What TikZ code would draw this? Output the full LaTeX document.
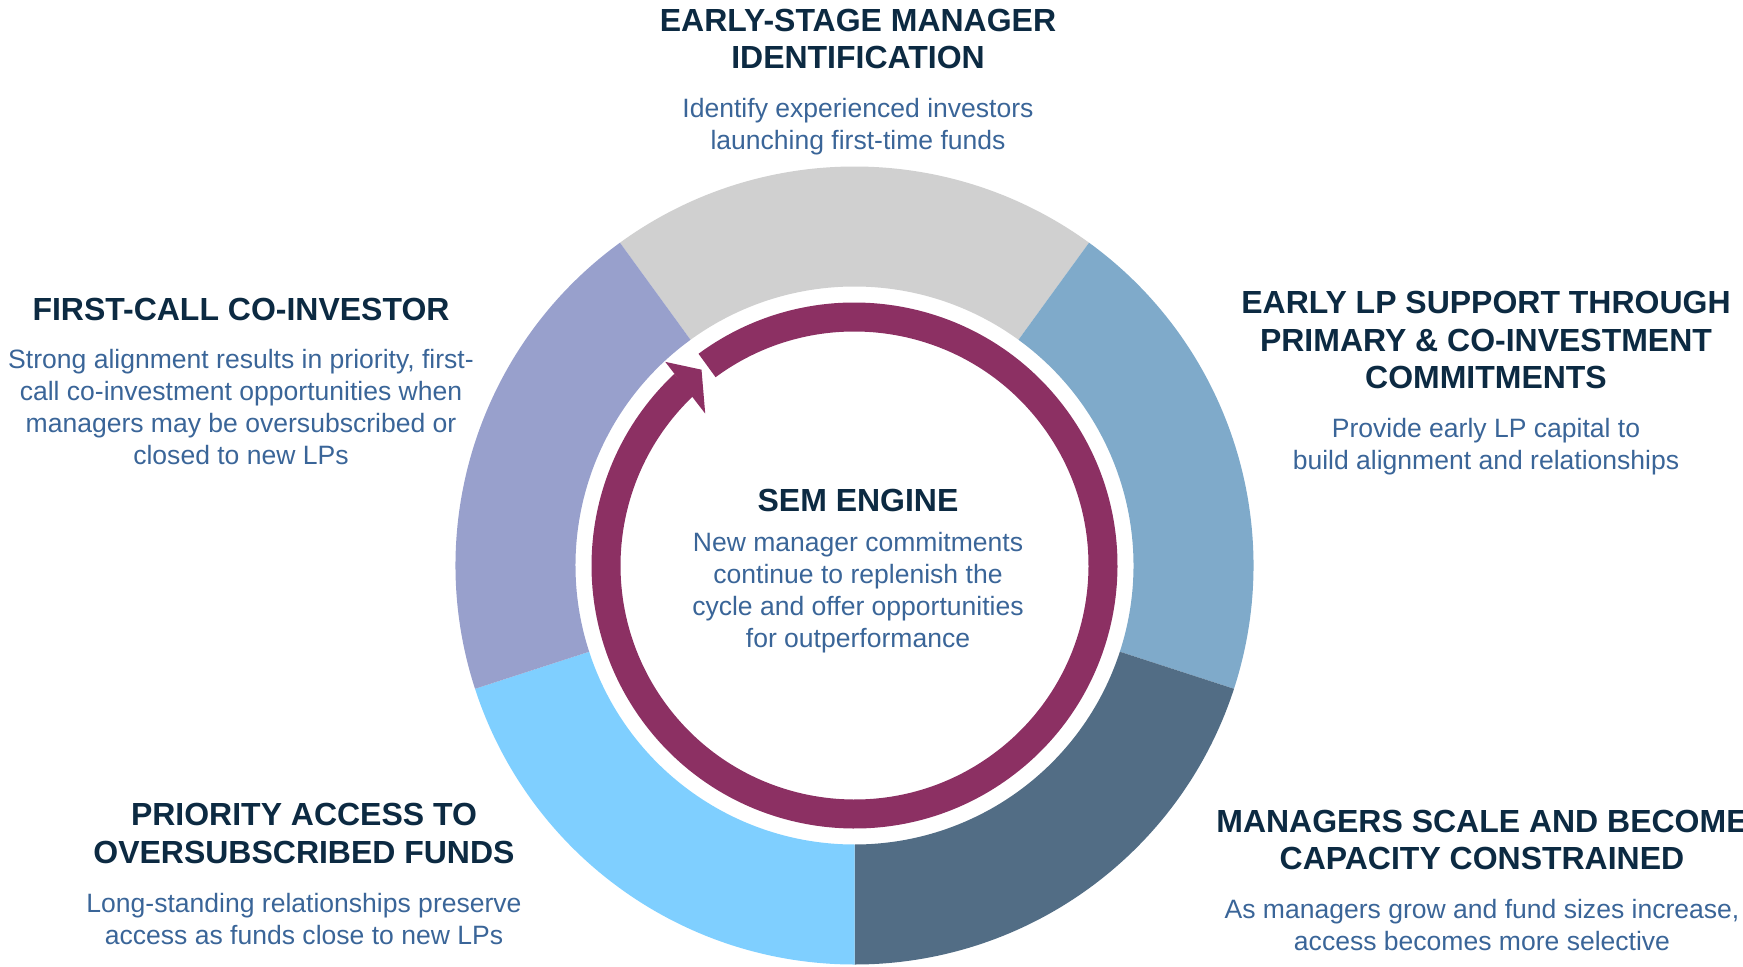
\documentclass[tikz,border=0pt]{standalone}
\usepackage{fontspec}
\setmainfont{Liberation Sans}
\usetikzlibrary{positioning}

\definecolor{navy}{RGB}{12,42,66}
\definecolor{copyblue}{RGB}{58,101,152}
\definecolor{wedgegray}{RGB}{208,208,208}
\definecolor{wedgesteel}{RGB}{127,170,202}
\definecolor{wedgeslate}{RGB}{82,109,133}
\definecolor{wedgesky}{RGB}{127,207,255}
\definecolor{wedgelilac}{RGB}{152,160,204}
\definecolor{engine}{RGB}{140,48,99}

\tikzset{
  heading/.style={font=\fontsize{9.1}{10.75}\selectfont\bfseries, text=navy,
    align=center, inner sep=0pt},
  blurb/.style={font=\fontsize{7.55}{9.1}\selectfont, text=copyblue,
    align=center, inner sep=0pt},
}

\begin{document}
\begin{tikzpicture}
\useasboundingbox (0,0) rectangle (17.43,9.66);

% ring of five stages, centred on the engine
\begin{scope}[shift={(8.545,4.005)}]
\fill[wedgegray]  (54:2.79) arc[start angle=54, end angle=126, radius=2.79]
  -- (126:3.99) arc[start angle=126, end angle=54, radius=3.99] -- cycle;
\fill[wedgesteel] (-18:2.79) arc[start angle=-18, end angle=54, radius=2.79]
  -- (54:3.99) arc[start angle=54, end angle=-18, radius=3.99] -- cycle;
\fill[wedgeslate] (-90:2.79) arc[start angle=-90, end angle=-18, radius=2.79]
  -- (-18:3.99) arc[start angle=-18, end angle=-90, radius=3.99] -- cycle;
\fill[wedgesky]   (198:2.79) arc[start angle=198, end angle=270, radius=2.79]
  -- (270:3.99) arc[start angle=270, end angle=198, radius=3.99] -- cycle;
\fill[wedgelilac] (126:2.79) arc[start angle=126, end angle=198, radius=2.79]
  -- (198:3.99) arc[start angle=198, end angle=126, radius=3.99] -- cycle;

% engine loop, running clockwise
\draw[engine, line width=0.29cm] (126.4:2.485)
  arc[start angle=126.4, end angle=-226.8, radius=2.485];
\fill[engine] (132.9:2.78) -- (128:2.485) -- (134.5:2.13) -- cycle;
\end{scope}

% stage texts
\node[heading] (identify) at (8.58,9.27) {EARLY-STAGE MANAGER\\IDENTIFICATION};
\node[blurb, below=0.28 of identify] (identifytxt)
  {Identify experienced investors\\launching first-time funds};

\node[heading] (support) at (14.86,6.26)
  {EARLY LP SUPPORT THROUGH\\PRIMARY \& CO-INVESTMENT\\COMMITMENTS};
\node[blurb, below=0.28 of support] (supporttxt)
  {Provide early LP capital to\\build alignment and relationships};

\node[heading] (scale) at (14.82,1.26)
  {MANAGERS SCALE AND BECOME\\CAPACITY CONSTRAINED};
\node[blurb, below=0.28 of scale] (scaletxt)
  {As managers grow and fund sizes increase,\\access becomes more selective};

\node[heading] (access) at (3.04,1.325)
  {PRIORITY ACCESS TO\\OVERSUBSCRIBED FUNDS};
\node[blurb, below=0.28 of access] (accesstxt)
  {Long-standing relationships preserve\\access as funds close to new LPs};

\node[heading] (firstcall) at (2.41,6.57) {FIRST-CALL CO-INVESTOR};
\node[blurb, below=0.28 of firstcall] (firstcalltxt)
  {Strong alignment results in priority, first-\\call co-investment opportunities when\\managers may be oversubscribed or\\closed to new LPs};

% the engine itself
\node[heading] (sem) at (8.58,4.66) {SEM ENGINE};
\node[blurb, below=0.2 of sem] (semtxt)
  {New manager commitments\\continue to replenish the\\cycle and offer opportunities\\for outperformance};
\end{tikzpicture}
\end{document}
